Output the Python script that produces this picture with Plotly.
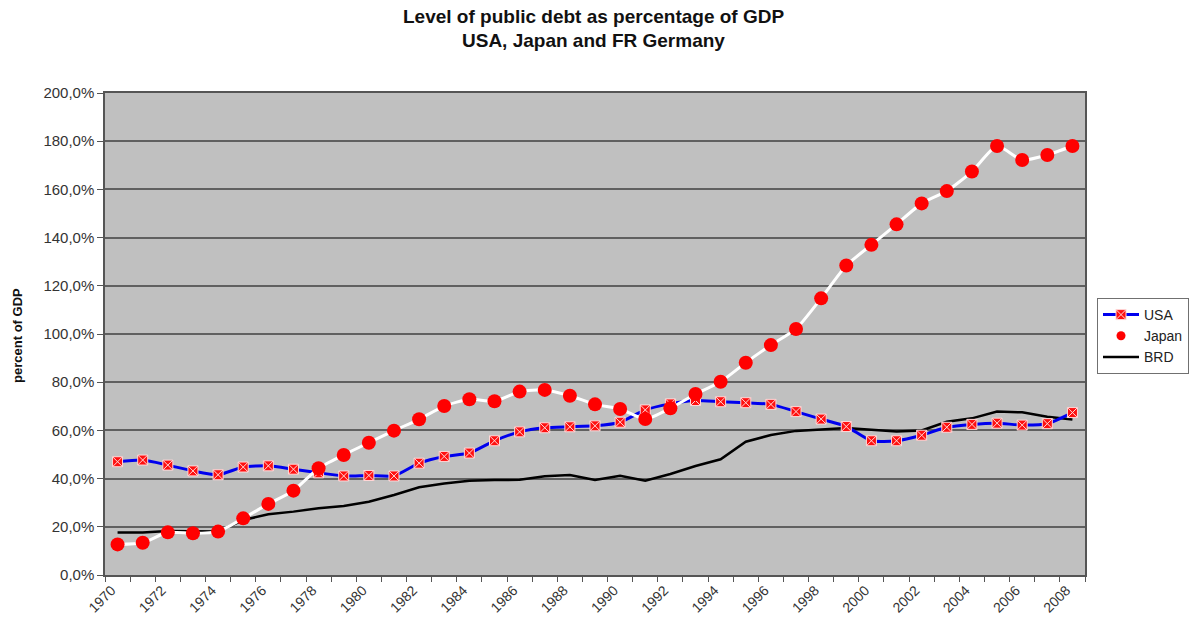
import plotly.graph_objects as go

years = list(range(1970, 2009))
usa = [47.0, 47.7, 45.6, 43.2, 41.6, 44.8, 45.3, 43.9, 42.4, 41.1,
       41.3, 41.1, 46.4, 49.2, 50.6, 55.7, 59.4, 61.1, 61.5, 61.9,
       63.4, 68.5, 71.0, 72.4, 71.9, 71.5, 70.8, 67.8, 64.7, 61.6,
       55.7, 55.7, 58.0, 61.3, 62.5, 63.0, 62.2, 62.8, 67.4]
japan = [12.7, 13.4, 17.7, 17.3, 18.0, 23.5, 29.5, 35.0, 44.3, 49.8,
         54.9, 59.9, 64.6, 70.1, 72.9, 72.1, 76.1, 76.8, 74.4, 70.8,
         68.9, 64.7, 69.2, 75.1, 80.2, 88.1, 95.4, 102.1, 114.8, 128.4,
         137.0, 145.5, 154.2, 159.3, 167.4, 178.0, 172.2, 174.3, 178.0]
brd = [17.6, 17.6, 18.3, 18.0, 18.0, 22.8, 25.2, 26.3, 27.7, 28.6,
       30.4, 33.2, 36.4, 38.0, 39.1, 39.4, 39.5, 41.0, 41.5, 39.4,
       41.2, 39.1, 41.9, 45.2, 48.0, 55.3, 58.1, 59.8, 60.5, 61.0,
       60.3, 59.5, 60.0, 63.6, 65.0, 67.8, 67.5, 65.7, 64.5]

y_ticks = [0, 20, 40, 60, 80, 100, 120, 140, 160, 180, 200]
y_tick_labels = ["0,0%", "20,0%", "40,0%", "60,0%", "80,0%", "100,0%",
                 "120,0%", "140,0%", "160,0%", "180,0%", "200,0%"]
x_label_years = list(range(1970, 2009, 2))
x_tick_labels = [str(y) for y in x_label_years]

FONT = "Liberation Sans, Arial, sans-serif"

fig = go.Figure()
# BRD drawn first (underneath)
fig.add_trace(go.Scatter(
    x=years, y=brd, name="BRD", mode="lines", legendrank=3,
    line=dict(color="black", width=2.5)))
fig.add_trace(go.Scatter(
    x=years, y=usa, name="USA", mode="lines+markers", legendrank=1,
    line=dict(color="#0000EE", width=3, shape="spline", smoothing=0.6),
    marker=dict(symbol="square-x", size=10, color="#FF1010",
                line=dict(color="#FFD8D8", width=1))))
fig.add_trace(go.Scatter(
    x=years, y=japan, name="Japan", mode="lines+markers", showlegend=False,
    line=dict(color="white", width=3, shape="spline", smoothing=0.6),
    marker=dict(symbol="circle", size=14, color="#FF0000",
                line=dict(width=0))))
# legend-only entry for Japan (small dot, no line, as in the original legend)
fig.add_trace(go.Scatter(
    x=[None], y=[None], name="Japan", mode="markers", legendrank=2,
    marker=dict(symbol="circle", size=9, color="#FF0000", line=dict(width=0))))

fig.update_layout(
    width=1193, height=625,
    margin=dict(l=105, r=108, t=93, b=50, autoexpand=False),
    paper_bgcolor="white",
    plot_bgcolor="#C0C0C0",
    showlegend=True,
    legend=dict(x=(1097 - 105) / 980, y=(575 - 298) / 482,
                xanchor="left", yanchor="top",
                bgcolor="white", bordercolor="#707070", borderwidth=1,
                font=dict(family=FONT, size=14, color="#222"),
                itemwidth=36, tracegroupgap=0),
    font=dict(family=FONT, size=12, color="#222"),
    annotations=[
        dict(text="<b>Level of public debt as percentage of GDP</b>",
             xref="paper", yref="paper", x=(593 - 105) / 980, y=(575 - 17) / 482,
             xanchor="center", yanchor="middle", showarrow=False,
             font=dict(family=FONT, size=19, color="#111")),
        dict(text="<b>USA, Japan and FR Germany</b>",
             xref="paper", yref="paper", x=(593 - 105) / 980, y=(575 - 41) / 482,
             xanchor="center", yanchor="middle", showarrow=False,
             font=dict(family=FONT, size=19, color="#111")),
        dict(text="<b>percent of GDP</b>", textangle=-90,
             xref="paper", yref="paper", x=(18 - 105) / 980, y=0.496,
             xanchor="center", yanchor="middle", showarrow=False,
             font=dict(family=FONT, size=13, color="#111")),
    ],
)

fig.update_xaxes(
    range=[1969.5, 2008.5], automargin=False,
    tickmode="array", tickvals=x_label_years, ticktext=x_tick_labels,
    tickangle=-45, ticks="", ticklabelshift=-6,
    tickfont=dict(family=FONT, size=14, color="#333"),
    showgrid=False, zeroline=False,
    showline=True, linecolor="#555", linewidth=1.5, mirror=True,
    minor=dict(tickmode="linear", tick0=1969.5, dtick=1, ticks="outside",
               ticklen=5, tickcolor="#555", tickwidth=1, showgrid=False),
)
fig.update_yaxes(
    range=[0, 200], automargin=False,
    tickmode="array", tickvals=y_ticks, ticktext=y_tick_labels,
    ticks="outside", ticklen=6, tickcolor="#555",
    tickfont=dict(family=FONT, size=15, color="#333"),
    showgrid=True, gridcolor="#606060", gridwidth=1.5, zeroline=False,
    showline=True, linecolor="#555", linewidth=1.5, mirror=True,
)

fig.write_html("out.html")
